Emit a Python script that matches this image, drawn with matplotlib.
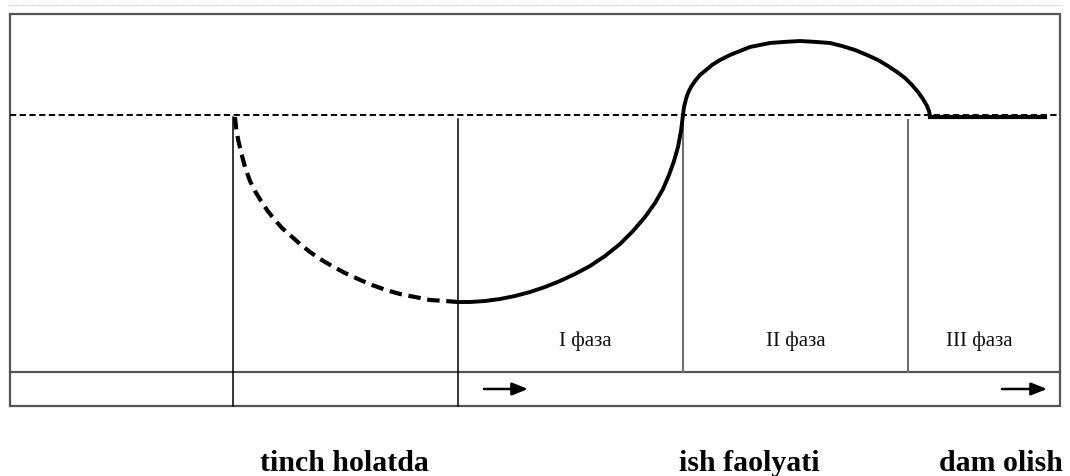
import matplotlib
matplotlib.use("Agg")
import matplotlib.pyplot as plt

# ---- data (in pixel-like units of the 1070x477 canvas) ----
# resting phase (dashed): drop below the baseline
rest_x = [235, 236, 238, 241, 245, 250, 255, 261, 267, 274, 282, 290, 300, 310, 320, 332, 345, 358,
          372, 386, 400, 415, 430, 445, 458]
rest_y = [118, 128, 140, 153, 168, 182, 192, 202, 211, 220, 229, 236, 245, 253, 260, 267, 274, 280,
          286, 291, 295, 298, 301, 302, 303]

# activity: recovery rise, overshoot arc and return to the baseline
work_x = [458, 470, 485, 500, 515, 530, 545, 560, 575, 590, 605, 620, 633, 645, 655, 663, 669, 674,
          678, 681, 683, 684, 686, 688, 691, 695, 700, 706, 712, 720, 730, 740, 750, 760, 770, 783,
          800, 817, 830, 842, 855, 867, 878, 888, 897, 905, 912, 918, 923, 927, 929, 930]
work_y = [303, 303, 302, 300, 297, 293, 288, 282, 275, 267, 257, 245, 232, 218, 204, 190, 176, 162,
          148, 132, 116, 108, 100, 94, 88, 82, 76, 71, 66, 61, 56, 52, 48, 46, 44, 43,
          42, 43, 44, 47, 51, 56, 61, 67, 73, 79, 86, 93, 100, 107, 112, 117]

# final rest level
end_x = [930, 1045]
end_y = [118, 118]

baseline_y = 116
box = dict(left=10, right=1060, top=15, bottom=407, strip=373)
dividers_full = [233, 458]          # run through the bottom strip
dividers_phase = [683, 908]         # stop at the strip
phase_labels = ["I фаза", "II фаза", "III фаза"]
phase_label_x = [585, 796, 979]
bottom_labels = ["tinch holatda", "ish faolyati", "dam olish"]
bottom_label_x = [344, 749, 1001]
arrows = [(484, 528), (1002, 1047)]

# ---- figure ----
W, H = 1070, 477
fig = plt.figure(figsize=(W / 100, H / 100), dpi=100)
ax = fig.add_axes([0, 0, 1, 1])
ax.set_xlim(0, W)
ax.set_ylim(H, 0)
ax.axis("off")

# faint top rule
ax.plot([8, 1062], [6, 6], color="#cfcfcf", lw=0.8, ls=(0, (2, 1)))

# outer box
gray = "#555555"
ax.plot([box["left"], box["right"], box["right"], box["left"], box["left"]],
        [box["top"], box["top"], box["bottom"], box["bottom"], box["top"]],
        color=gray, lw=1.6, solid_joinstyle="miter")
ax.plot([box["left"], box["right"]], [box["strip"], box["strip"]], color=gray, lw=1.6)

# dotted baseline
ax.plot([box["left"], box["right"]], [baseline_y, baseline_y], color="black", lw=1.4, ls=(0, (3.2, 1.8)))

# vertical dividers
ax.plot([dividers_full[0]] * 2, [118, box["bottom"]], color="black", lw=1.1)
ax.plot([dividers_full[1]] * 2, [120, box["bottom"]], color="black", lw=1.1)
ax.plot([dividers_phase[0]] * 2, [116, box["strip"]], color="#707070", lw=1.5)
ax.plot([dividers_phase[1]] * 2, [121, box["strip"]], color="#707070", lw=1.5)

# curves
ax.plot(rest_x, rest_y, color="black", lw=3.0, ls=(0, (3.0, 1.6)),
        dash_capstyle="butt", dash_joinstyle="round")
ax.plot(work_x, work_y, color="black", lw=2.8, solid_capstyle="round", solid_joinstyle="round")
ax.plot(end_x, end_y, color="black", lw=3.0)

# arrows in strip
for x0, x1 in arrows:
    ax.annotate("", xy=(x1, 390), xytext=(x0, 390),
                arrowprops=dict(arrowstyle="-|>,head_length=0.95,head_width=0.38",
                                color="black", lw=1.8, shrinkA=0, shrinkB=0))

# phase labels
for t, x in zip(phase_labels, phase_label_x):
    ax.text(x, 341, t, ha="center", va="center", fontsize=15,
            family="Liberation Serif", color="#111111")

# bottom labels
for t, x in zip(bottom_labels, bottom_label_x):
    ax.text(x, 471, t, ha="center", va="baseline", fontsize=21.5,
            family="Liberation Serif", fontweight="bold", color="black")

fig.savefig("out.png", dpi=100)
